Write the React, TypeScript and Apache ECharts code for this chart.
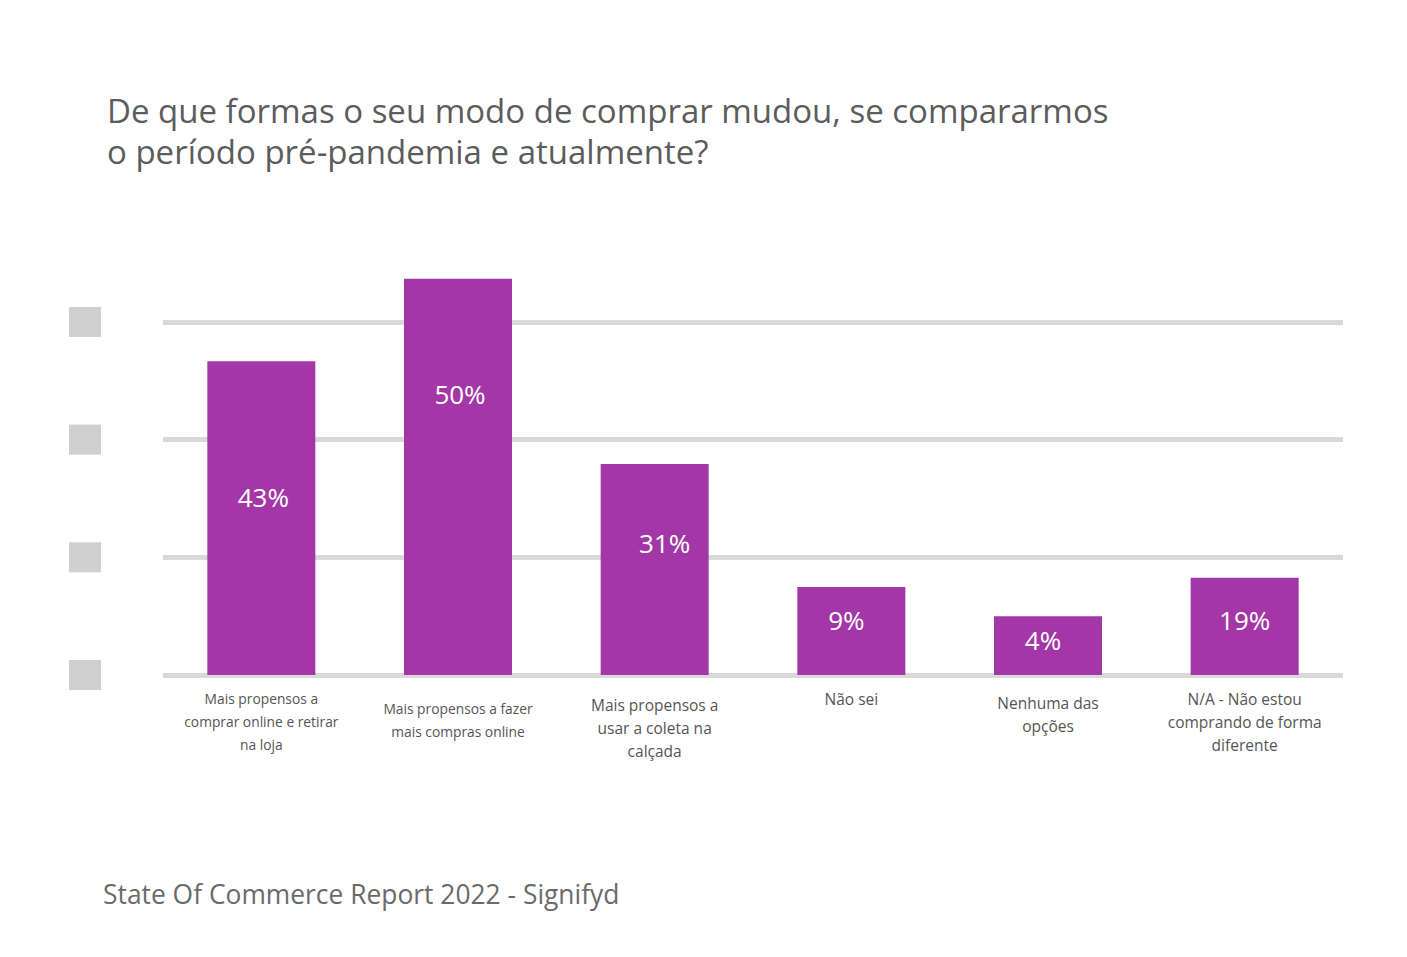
import React, { useEffect, useRef } from "react";
import * as echarts from "echarts";

const categories = [
  "Mais propensos a\ncomprar online e retirar\nna loja",
  "Mais propensos a fazer\nmais compras online",
  "Mais propensos a\nusar a coleta na\ncalçada",
  "Não sei",
  "Nenhuma das\nopções",
  "N/A - Não estou\ncomprando de forma\ndiferente",
];
// bar heights as drawn (axis units; gridlines every 15)
const barHeights = [40, 50.5, 26.9, 11.2, 7.5, 12.4];
const valueLabels = ["43%", "50%", "31%", "9%", "4%", "19%"];

const titleText =
  "De que formas o seu modo de comprar mudou, se compararmos\no período pré-pandemia e atualmente?";
const footerText = "State Of Commerce Report 2022 - Signifyd";

const labelOffsets = [
  [2, -21],
  [2, -83],
  [10, -26],
  [-5, -11],
  [-5, -6],
  [0, -6],
];
const catPadTop = [0, 10, 6, 0, 4, 0];
const catFontSize = [13.8, 13.8, 15.5, 15.5, 15.5, 15.5];

export default function App() {
  const ref = useRef<HTMLDivElement>(null);
  useEffect(() => {
    if (!ref.current) return;
    const chart = echarts.init(ref.current, null, { renderer: "svg" });
    const font = "'Open Sans', Lato, sans-serif";
    chart.setOption({
      animation: false,
      backgroundColor: "#ffffff",
      title: [
        {
          text: titleText,
          left: 102,
          top: 85,
          textStyle: {
            color: "#5c5c5c",
            fontFamily: font,
            fontWeight: 400,
            fontSize: 33,
            lineHeight: 41,
          },
        },
        {
          text: footerText,
          left: 98,
          top: 876,
          textStyle: {
            color: "#6a6a6a",
            fontFamily: font,
            fontWeight: 400,
            fontSize: 26.4,
          },
        },
      ],
      grid: { left: 163, right: 64, top: 267, bottom: 282, containLabel: false },
      xAxis: {
        type: "category",
        data: categories.map((c, i) => ({
          value: c,
          textStyle: {
            padding: [catPadTop[i], 0, 0, 0],
            fontSize: catFontSize[i],
          },
        })),
        axisLine: { show: false },
        axisTick: { show: false },
        axisLabel: {
          interval: 0,
          margin: 12,
          color: "#555555",
          fontFamily: font,
          lineHeight: 23,
          align: "center",
        },
      },
      yAxis: {
        type: "value",
        min: 0,
        max: 52,
        interval: 15,
        axisLine: { show: false },
        axisTick: { show: false },
        splitLine: {
          show: true,
          showMaxLine: false,
          lineStyle: { color: "#d9d9d9", width: 5 },
        },
        axisLabel: {
          showMaxLabel: false,
          margin: 62,
          formatter: () => "{s| }",
          rich: {
            s: { width: 32, height: 30, backgroundColor: "#d0d0d0" },
          },
        },
      },
      series: [
        {
          type: "bar",
          barWidth: 108,
          itemStyle: { color: "#a337a7" },
          data: barHeights.map((v, i) => ({
            value: v,
            label: { offset: labelOffsets[i] },
          })),
          label: {
            show: true,
            position: "inside",
            color: "#ffffff",
            fontFamily: font,
            fontSize: 26,
            formatter: (p: any) => valueLabels[p.dataIndex],
          },
          z: 3,
        },
      ],
    });
    return () => chart.dispose();
  }, []);
  return (
    <div
      ref={ref}
      style={{ position: "absolute", left: 0, top: 0, width: 1407, height: 957 }}
    />
  );
}
